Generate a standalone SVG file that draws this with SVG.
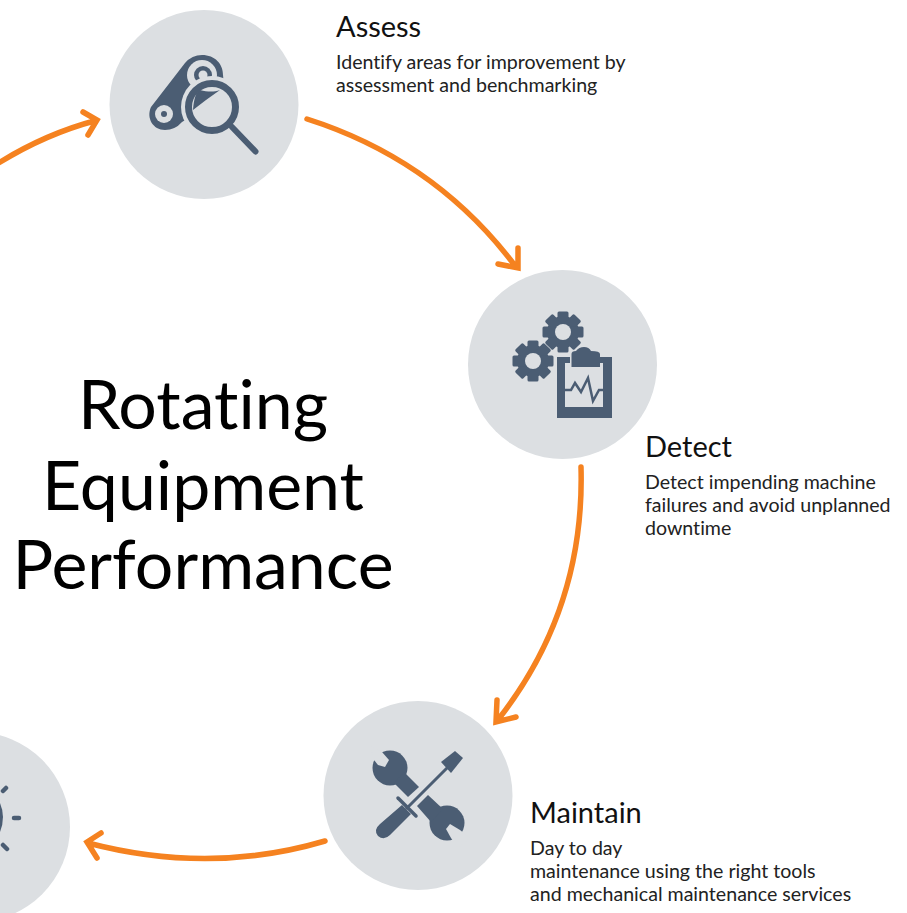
<svg xmlns="http://www.w3.org/2000/svg" xmlns:xlink="http://www.w3.org/1999/xlink" width="907" height="913" viewBox="0 0 907 913">
<style>
.c{fill:#dcdfe2}
.i{fill:#4b5d73}
.b{fill:#dcdfe2}
.a{fill:none;stroke:#f58220;stroke-width:5.5;stroke-linecap:round;stroke-linejoin:miter}
.h{font:29px "Lato","Liberation Sans",sans-serif;fill:#111;font-variant-ligatures:none}
.d{font:19.6px "Lato","Liberation Sans",sans-serif;fill:#222;font-variant-ligatures:none}
.t{font:68px "Lato","Liberation Sans",sans-serif;fill:#000;text-anchor:middle;font-variant-ligatures:none}
</style>
<defs>
<g id="gear">
<circle class="i" r="16"/>
<g class="i">
<rect x="-5.500" y="-20.500" width="11" height="41" rx="1.500"/>
<rect x="-5.500" y="-20.500" width="11" height="41" rx="1.500" transform="rotate(45)"/>
<rect x="-5.500" y="-20.500" width="11" height="41" rx="1.500" transform="rotate(90)"/>
<rect x="-5.500" y="-20.500" width="11" height="41" rx="1.500" transform="rotate(135)"/>
</g>
<circle class="b" r="8"/>
</g>
</defs>
<g id="connectors">
<path class="a" d="M-3 164Q45 134 96 120.500M83 112L97 120L88 135"/>
<path class="a" d="M307 119Q436 160 516 267M498 264L518 268L518 248"/>
<path class="a" d="M581 467Q585 610 497 721M497 700L496 722L516 717"/>
<path class="a" d="M325 841Q210 875 88 843M101 833L87 842L97 858"/>
</g>
<g id="node-assess">
<circle class="c" cx="204" cy="104.500" r="94.500"/>
<path class="i" d="M151 107L185 63Q192 55 202 55C215 55 223 64 223 75L225 96L182 122Q175 130 165 130C153 130 146 118 151 107Z"/>
<circle class="b" cx="164" cy="114" r="9"/>
<circle class="i" cx="164" cy="114" r="3"/>
<circle class="b" cx="202" cy="75" r="15"/>
<circle class="i" cx="203" cy="75" r="9"/>
<circle class="b" cx="203" cy="75" r="4.500"/>
<circle class="b" cx="212" cy="107" r="31"/>
<path class="i" d="M193 110C194 98 196 92 200 90C208 92 214 92 220 90L206 100Z"/>
<circle fill="none" stroke="#4b5d73" stroke-width="7" cx="212" cy="107" r="23.500"/>
<path d="M232 127L255.500 151.500" stroke="#4b5d73" stroke-width="6" stroke-linecap="round"/>
</g>
<g id="node-detect">
<circle class="c" cx="562.500" cy="364.500" r="94.500"/>
<use xlink:href="#gear" href="#gear" x="563" y="332"/>
<use xlink:href="#gear" href="#gear" x="533" y="361"/>
<path class="i" d="M557 357H570V363H565V407H603V363H600V357H612V418H557Z"/>
<path class="i" d="M571.500 367V354Q571.500 351 576 351Q579 347 584 347Q589 347 591 351Q600 351 600 354V367Z"/>
<path d="M565 390H571L575 383L581 392L588 378L593 401L599 390H604" fill="none" stroke="#4b5d73" stroke-width="2.500"/>
</g>
<g id="node-maintain">
<circle class="c" cx="418" cy="795.500" r="94.500"/>
<circle class="i" cx="390" cy="768" r="17.500"/>
<path class="b" d="M370 745L374 760L378 765L385 767L389 760L382 752Z"/>
<path class="i" d="M404 772L419 787L408 797L394 783Z"/>
<circle class="i" cx="447" cy="823" r="17.500"/>
<path class="b" d="M470 838L460 830L450 824L446 829L451 838L458 848Z"/>
<path class="i" d="M428 795L443 809L431 822L417 806Z"/>
<path class="i" d="M441 762L455 751L463 758L451 773Z"/>
<path d="M448 767L406 809" stroke="#4b5d73" stroke-width="3"/>
<path d="M398 798L416 816" stroke="#4b5d73" stroke-width="3.500" stroke-linecap="round"/>
<path class="i" d="M402 805L411 814L390 835Q384 841 378 836Q373 830 380 824Z"/>
</g>
<g id="node-left">
<circle class="c" cx="-25" cy="827" r="95"/>
<path class="i" d="M0 803Q6 817 0 832Z"/>
<path d="M3 791L6 788M14 818H19M3 845L7 849" stroke="#4b5d73" stroke-width="4.500" stroke-linecap="round"/>
</g>
<g id="title">
<text class="t" x="203" y="429">Rotating</text>
<text class="t" x="203" y="510">Equipment</text>
<text class="t" x="203" y="589">Performance</text>
</g>
<g id="labels">
<text class="h" x="336" y="37">Assess</text>
<text class="d" x="336" y="69">Identify areas for improvement by</text>
<text class="d" x="336" y="92">assessment and benchmarking</text>
<text class="h" x="645" y="457">Detect</text>
<text class="d" x="645" y="489">Detect impending machine</text>
<text class="d" x="645" y="512">failures and avoid unplanned</text>
<text class="d" x="645" y="535">downtime</text>
<text class="h" x="530" y="823">Maintain</text>
<text class="d" x="530" y="855">Day to day</text>
<text class="d" x="530" y="878">maintenance using the right tools</text>
<text class="d" x="530" y="901">and mechanical maintenance services</text>
</g>
</svg>
